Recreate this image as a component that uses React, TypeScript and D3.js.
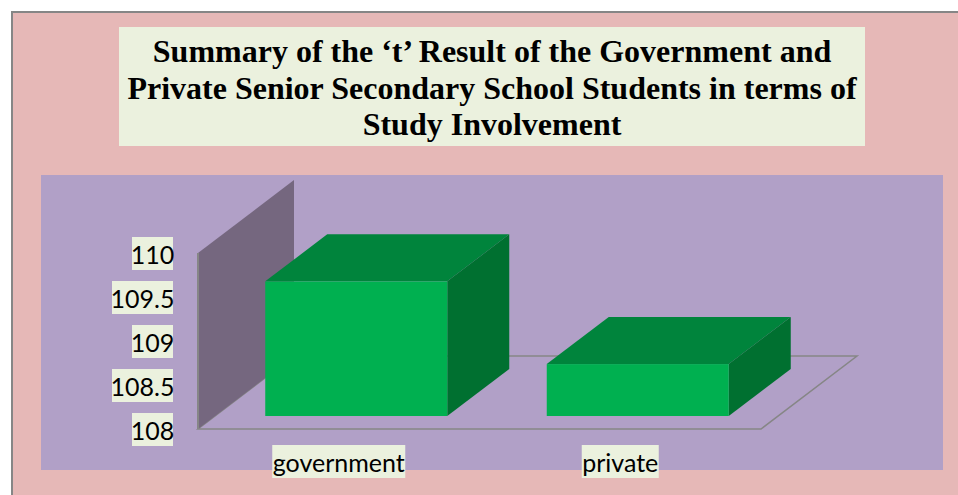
import React from "react";
import * as d3 from "d3";

const titleLines = [
  "Summary of the ‘t’ Result of the Government and",
  "Private Senior Secondary School Students in terms of",
  "Study Involvement",
];
const categories = ["government", "private"];
const values = [109.53, 108.59];
const yTicks = [108, 108.5, 109, 109.5, 110];
const yTickLabels = ["108", "108.5", "109", "109.5", "110"];

const W = 958;
const H = 495;
const COLORS = {
  page: "#E6B8B7",
  plot: "#B1A0C7",
  label: "#EBF1DE",
  wall: "#75677F",
  rule: "#868686",
  front: "#00B050",
  top: "#00843C",
  side: "#007030",
};

// Oblique projection: the floor recedes by this vector, bars sit inset within it.
const DEPTH = { x: 96, y: -73 };
const INSET = { x: 17.5, y: -13 };
const BAR_DEPTH = { x: 62, y: -47 };
const BAR_WIDTH = 182;

const yScale = d3.scaleLinear().domain([108, 110]).range([429, 253]);
const xScale = d3.scaleBand<string>().domain(categories).range([198, 761]);

const pts = (p: [number, number][]) => p.map((q) => q.join(",")).join(" ");

function Bar({ category, value }: { category: string; value: number }) {
  const cx = xScale(category)! + xScale.bandwidth() / 2 + INSET.x;
  const x0 = cx - BAR_WIDTH / 2;
  const x1 = cx + BAR_WIDTH / 2;
  const yb = yScale(108) + INSET.y;
  const yt = yScale(value) + INSET.y;
  const dx = BAR_DEPTH.x;
  const dy = BAR_DEPTH.y;
  return (
    <g>
      <polygon
        points={pts([[x0, yt], [x1, yt], [x1 + dx, yt + dy], [x0 + dx, yt + dy]])}
        fill={COLORS.top}
      />
      <polygon
        points={pts([[x1, yt], [x1 + dx, yt + dy], [x1 + dx, yb + dy], [x1, yb]])}
        fill={COLORS.side}
      />
      <rect x={x0} y={yt} width={BAR_WIDTH} height={yb - yt} fill={COLORS.front} />
    </g>
  );
}

function BoxedLabel(props: { x0: number; x1: number; y0: number; y1: number; text: string }) {
  const { x0, x1, y0, y1, text } = props;
  return (
    <g>
      <rect x={x0} y={y0} width={x1 - x0} height={y1 - y0} fill={COLORS.label} />
      <text
        x={(x0 + x1) / 2}
        y={y0 + 26.5}
        textAnchor="middle"
        fontFamily="Lato, 'Open Sans', sans-serif"
        fontSize={25}
        fill="#000"
      >
        {text}
      </text>
    </g>
  );
}

export default function App() {
  const xLeft = xScale.range()[0];
  const xRight = xScale.range()[1];
  const yBase = yScale(108);
  const yTop = yScale(110);
  const tickWidths: Record<string, number> = { "108": 41, "108.5": 61, "109": 41, "109.5": 61, "110": 41 };
  const catBoxes: Record<string, number> = { government: 133, private: 77 };

  return (
    <svg
      width={W}
      height={H}
      viewBox={`0 0 ${W} ${H}`}
      style={{ position: "absolute", left: 0, top: 0, display: "block" }}
    >
      <rect x={0} y={0} width={W} height={H} fill="#fff" />
      <rect x={12} y={12} width={W} height={H} fill={COLORS.page} stroke={COLORS.rule} strokeWidth={2} />

      <rect x={119} y={27} width={746} height={119} fill={COLORS.label} />
      {titleLines.map((line, i) => (
        <text
          key={line}
          x={492}
          y={62 + i * 36.5}
          textAnchor="middle"
          fontFamily="'Liberation Serif', serif"
          fontWeight="bold"
          fontSize={32}
          fill="#000"
        >
          {line}
        </text>
      ))}

      <rect x={41} y={175} width={902} height={295} fill={COLORS.plot} />

      <polygon
        points={pts([
          [xLeft, yBase],
          [xRight, yBase],
          [xRight + DEPTH.x, yBase + DEPTH.y],
          [xLeft + DEPTH.x, yBase + DEPTH.y],
        ])}
        fill="none"
        stroke={COLORS.rule}
        strokeWidth={1.5}
      />
      <polygon
        points={pts([
          [xLeft, yBase],
          [xLeft, yTop],
          [xLeft + DEPTH.x, yTop + DEPTH.y],
          [xLeft + DEPTH.x, yBase + DEPTH.y],
        ])}
        fill={COLORS.wall}
      />
      <line x1={xLeft} x2={xLeft} y1={yTop} y2={yBase} stroke={COLORS.rule} strokeWidth={2} />

      {categories.map((c, i) => (
        <Bar key={c} category={c} value={values[i]} />
      ))}

      {yTicks.map((t, i) => {
        const w = tickWidths[yTickLabels[i]];
        const cy = yScale(t);
        return (
          <BoxedLabel key={t} x0={173 - w} x1={173} y0={cy - 16} y1={cy + 17} text={yTickLabels[i]} />
        );
      })}

      {categories.map((c) => {
        const cx = xScale(c)! + xScale.bandwidth() / 2;
        const w = catBoxes[c];
        return <BoxedLabel key={c} x0={cx - w / 2} x1={cx + w / 2} y0={445} y1={478} text={c} />;
      })}
    </svg>
  );
}
